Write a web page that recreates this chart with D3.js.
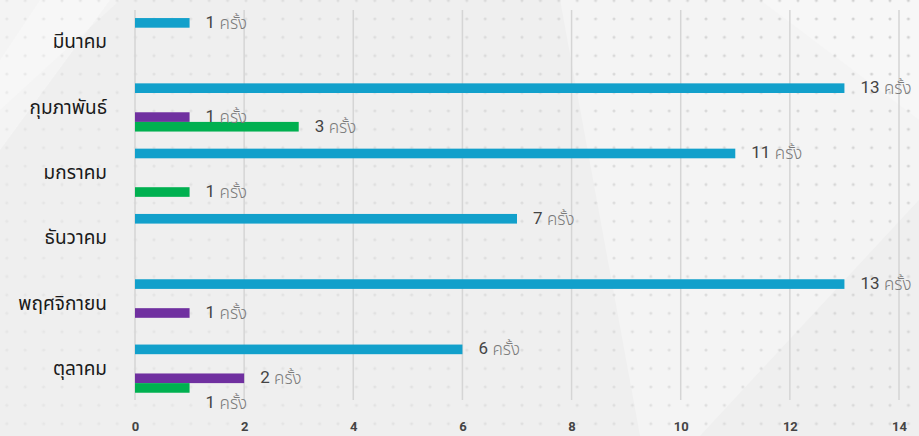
<!DOCTYPE html>
<html><head><meta charset="utf-8">
<script src="https://cdn.jsdelivr.net/npm/d3@7"></script>
<style>
html,body{margin:0;padding:0;background:#efefef;}
svg{display:block;}
</style></head>
<body><svg id="chart" width="919" height="436"></svg>
<script>
// ---- data ----
const categories = ["มีนาคม","กุมภาพันธ์","มกราคม","ธันวาคม","พฤศจิกายน","ตุลาคม"];
const seriesKeys = ["s1","s2","s3","s4","s5"];
const seriesColors = ["#12a0cb","#a5a5a5","#ffc000","#7030a0","#00b050"];
const s1Values = [1,13,11,7,13,6];
const s2Values = [0,0,0,0,0,0];
const s3Values = [0,0,0,0,0,0];
const s4Values = [0,1,0,0,1,2];
const s5Values = [0,3,1,0,0,1];
const xTicks = [0,2,4,6,8,10,12,14];
const unitLabel = "ครั้ง";

const seriesValues = [s1Values,s2Values,s3Values,s4Values,s5Values];
const W = 919, H = 436;
const svg = d3.select("#chart");

// ---- background ----
const defs = svg.append("defs");
const pat = defs.append("pattern").attr("id","dots").attr("patternUnits","userSpaceOnUse")
  .attr("x",6.8).attr("y",0.5).attr("width",18.4).attr("height",18.4);
[[0,0],[18.4,0],[0,18.4],[18.4,18.4]].forEach(p=>
  pat.append("circle").attr("cx",p[0]).attr("cy",p[1]).attr("r",1.5).attr("fill","#cfcfcf"));
const lg = defs.append("linearGradient").attr("id","fadeG").attr("x1","0").attr("x2","1").attr("y1","0.4").attr("y2","0");
lg.append("stop").attr("offset","0").attr("stop-color","#fff").attr("stop-opacity",0.3);
lg.append("stop").attr("offset","0.5").attr("stop-color","#fff").attr("stop-opacity",0.6);
lg.append("stop").attr("offset","1").attr("stop-color","#fff").attr("stop-opacity",1);
const mask = defs.append("mask").attr("id","fadeM");
mask.append("rect").attr("width",W).attr("height",H).attr("fill","url(#fadeG)");

svg.append("rect").attr("width",W).attr("height",H).attr("fill","#efefef");
// light diagonal shapes
svg.append("path").attr("d","M0,0 L110,0 L0,150 Z").attr("fill","#ffffff").attr("opacity",0.35);
svg.append("path").attr("d","M40,0 L120,0 L0,110 L0,60 Z").attr("fill","#ffffff").attr("opacity",0.25);
svg.append("path").attr("d","M560,0 L919,0 L919,200 L700,436 L640,436 Z").attr("fill","#ffffff").attr("opacity",0.3);
svg.append("path").attr("d","M760,0 L919,0 L919,120 Z").attr("fill","#ffffff").attr("opacity",0.25);
svg.append("rect").attr("width",W).attr("height",H).attr("fill","url(#dots)").attr("mask","url(#fadeM)");

// ---- scales ----
const x = d3.scaleLinear().domain([0,14]).range([135,899]);
const y0 = d3.scaleBand().domain(categories).range([9.5,401.3]).paddingInner(0.262).paddingOuter(0.131);
const y1 = d3.scaleBand().domain(seriesKeys).range([0,y0.bandwidth()]);

// ---- gridlines ----
svg.append("g").selectAll("line").data(xTicks).join("line")
  .attr("x1",d=>x(d)).attr("x2",d=>x(d)).attr("y1",10).attr("y2",400)
  .attr("stroke","#d5d5d5").attr("stroke-width",1.5);

// ---- x axis labels ----
const xAxis = d3.axisBottom(x).tickValues(xTicks).tickSize(0).tickPadding(0);
const gx = svg.append("g").attr("transform","translate(0,421)").call(xAxis);
gx.select(".domain").remove();
gx.selectAll("text").attr("font-family","Roboto, 'Liberation Sans', sans-serif")
  .attr("font-weight","bold").attr("font-size",13).attr("fill","#444").attr("dy","0.75em");

// ---- category labels ----
svg.append("g").selectAll("text").data(categories).join("text")
  .attr("x",107).attr("y",d=>y0(d)+y0.bandwidth()/2+1)
  .attr("text-anchor","end").attr("dominant-baseline","middle")
  .attr("font-family","'Noto Sans Thai','Noto Sans Thai UI','Noto Sans','Liberation Sans',sans-serif")
  .attr("font-size",19).attr("fill","#1a1a1a").text(d=>d);

// ---- bars ----
const barData = [];
categories.forEach((c,ci)=>{
  seriesKeys.forEach((k,si)=>{
    barData.push({cat:c, key:k, si:si, v:seriesValues[si][ci], color:seriesColors[si],
                  prev: si>0 ? seriesValues[si-1][ci] : 0});
  });
});
const bars = barData.filter(d=>d.v>0);
svg.append("g").selectAll("rect").data(bars).join("rect")
  .attr("x",x(0)).attr("y",d=>y0(d.cat)+y1(d.key))
  .attr("width",d=>x(d.v)-x(0)).attr("height",y1.bandwidth())
  .attr("fill",d=>d.color);

// ---- value labels ----
const lbl = svg.append("g").selectAll("text").data(bars).join("text")
  .attr("x",d=>x(d.v)+16)
  .attr("y",d=>{
    let yy = y0(d.cat)+y1(d.key)+y1.bandwidth()/2+1;
    // push label below when it would sit on the bar just above it
    if (d.prev > 0 && x(d.prev) > x(d.v)+10) yy += 15;
    return yy;
  })
  .attr("dominant-baseline","middle")
  .attr("font-family","Roboto, 'Liberation Sans', sans-serif");
lbl.append("tspan").attr("font-size",17).attr("fill","#444").text(d=>d.v);
lbl.append("tspan").attr("font-size",17).attr("fill","#7a7a7a")
  .attr("font-family","'Noto Sans Thai','Noto Sans Thai UI','Noto Sans',sans-serif")
  .attr("font-weight",300)
  .text(" "+unitLabel);
</script>
</body></html>
